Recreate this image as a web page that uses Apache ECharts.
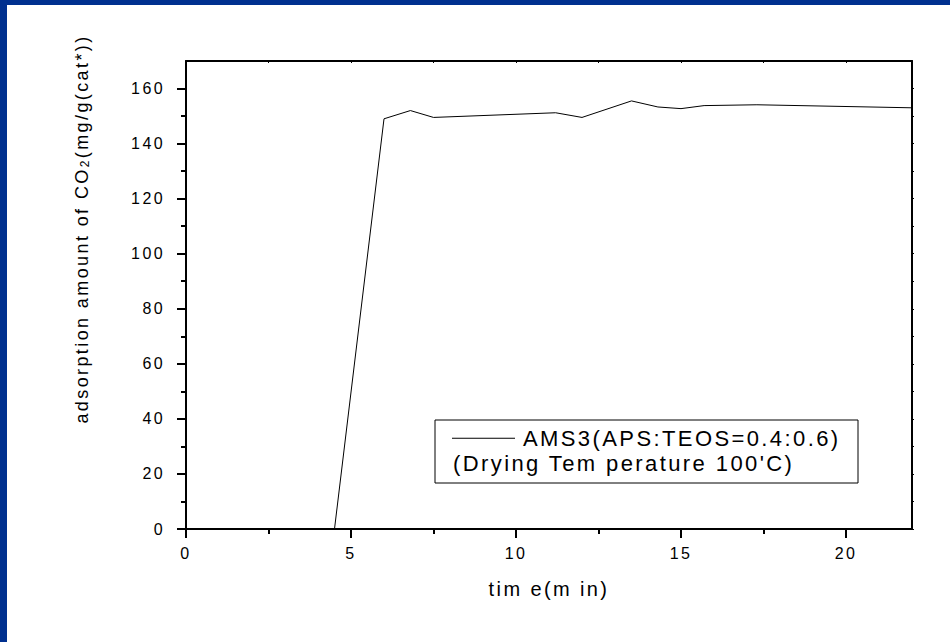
<!DOCTYPE html>
<html>
<head>
<meta charset="utf-8">
<script src="https://cdn.jsdelivr.net/npm/echarts@6/dist/echarts.min.js"></script>
<style>
html,body{margin:0;padding:0;background:#fff;overflow:hidden;}
#wrap{position:relative;width:950px;height:642px;overflow:hidden;}
#main{position:absolute;left:0;top:0;width:950px;height:642px;}
#main text{letter-spacing:2.4px;}
.band{position:absolute;z-index:10;background:#00308f;}
</style>
</head>
<body>
<div id="wrap">
<div id="main"></div>
<div class="band" style="left:0;top:0;width:7px;height:642px;"></div>
<div class="band" style="left:0;top:0;width:950px;height:5px;"></div>
</div>
<script>
// ---- data ----
const timeMin = [0, 4.5, 6.0, 6.8, 7.5, 11.2, 12.0, 13.5, 14.3, 15.0, 15.7, 17.3, 22.0];
const adsorption = [0, 0, 149, 152, 149.5, 151.2, 149.5, 155.5, 153.3, 152.7, 153.8, 154.1, 153.0];
const xMajorTicks = [0, 5, 10, 15, 20];
const xMinorTicks = [2.5, 7.5, 12.5, 17.5];
const yMajorTicks = [0, 20, 40, 60, 80, 100, 120, 140, 160];
const yMinorTicks = [10, 30, 50, 70, 90, 110, 130, 150];
const seriesName = 'AMS3(APS:TEOS=0.4:0.6)';
const legendLine2 = "(Drying Tem perature 100'C)";
const xTitle = 'tim e(m in)';

const LS = 2.4;
const FONT = "'Liberation Sans', Arial, sans-serif";
const mctx = document.createElement('canvas').getContext('2d');
echarts.setPlatformAPI({
  measureText(text, font) {
    mctx.font = font || '12px sans-serif';
    const m = mctx.measureText(text);
    return { width: m.width + LS * String(text).length };
  }
});

const chart = echarts.init(document.getElementById('main'), null, { renderer: 'svg', width: 950, height: 642 });
const gridRect = { left: 186, top: 61, width: 726, height: 468, outerBoundsMode: 'none' };
const black = '#000';

const option = {
  animation: false,
  backgroundColor: '#fff',
  grid: [Object.assign({}, gridRect), Object.assign({}, gridRect)],
  xAxis: [
    { type: 'value', gridIndex: 0, position: 'bottom', min: 0, max: 22, interval: 5,
      axisLine: { show: true, onZero: false, lineStyle: { color: black, width: 2 } },
      axisTick: { show: true, inside: false, length: 9, customValues: xMajorTicks, lineStyle: { color: black, width: 2 } },
      axisLabel: { show: true, customValues: xMajorTicks, margin: 15, color: black, fontSize: 16, fontFamily: FONT },
      splitLine: { show: false },
      name: xTitle, nameLocation: 'middle', nameGap: 49,
      nameTextStyle: { color: black, fontSize: 20, fontFamily: FONT } },
    { type: 'value', gridIndex: 0, position: 'top', min: 0, max: 22, interval: 5,
      axisLine: { show: true, onZero: false, lineStyle: { color: black, width: 2 } },
      axisTick: { show: true, inside: true, length: 2, customValues: xMajorTicks.concat(xMinorTicks), lineStyle: { color: black, width: 1 } },
      axisLabel: { show: false }, splitLine: { show: false } },
    { type: 'value', gridIndex: 1, position: 'bottom', min: 0, max: 22, interval: 2.5,
      axisLine: { show: false, onZero: false },
      axisTick: { show: true, inside: false, length: 5, customValues: xMinorTicks, lineStyle: { color: black, width: 2 } },
      axisLabel: { show: false }, splitLine: { show: false } }
  ],
  yAxis: [
    { type: 'value', gridIndex: 0, position: 'left', min: 0, max: 170, interval: 20,
      axisLine: { show: true, onZero: false, lineStyle: { color: black, width: 2 } },
      axisTick: { show: true, inside: false, length: 9, customValues: yMajorTicks, lineStyle: { color: black, width: 2 } },
      axisLabel: { show: true, customValues: yMajorTicks, margin: 21, color: black, fontSize: 16, fontFamily: FONT },
      splitLine: { show: false } },
    { type: 'value', gridIndex: 0, position: 'right', min: 0, max: 170, interval: 20,
      axisLine: { show: true, onZero: false, lineStyle: { color: black, width: 2 } },
      axisTick: { show: true, inside: false, length: 2, customValues: yMajorTicks.concat(yMinorTicks), lineStyle: { color: black, width: 1 } },
      axisLabel: { show: false }, splitLine: { show: false } },
    { type: 'value', gridIndex: 1, position: 'left', min: 0, max: 170, interval: 10,
      axisLine: { show: false, onZero: false },
      axisTick: { show: true, inside: false, length: 5, customValues: yMinorTicks, lineStyle: { color: black, width: 2 } },
      axisLabel: { show: false }, splitLine: { show: false } }
  ],
  legend: {
    data: [{ name: seriesName, icon: 'rect' }], left: 452, top: 426, padding: 0,
    itemWidth: 63, itemHeight: 1, selectedMode: false,
    itemStyle: { color: black, borderWidth: 0 },
    textStyle: { color: black, fontSize: 22, fontFamily: FONT, padding: [0, 0, 0, 3] }
  },
  graphic: [
    { type: 'rect', silent: true, z: 50, shape: { x: 435, y: 420, width: 423, height: 63 },
      style: { fill: 'rgba(0,0,0,0)', stroke: black, lineWidth: 1 } },
    { type: 'text', silent: true, z: 50, x: 453, y: 463,
      style: { text: legendLine2, fill: black, font: '22px ' + FONT, align: 'left', verticalAlign: 'middle' } },
    { type: 'text', silent: true, z: 50, x: 82, y: 229, rotation: Math.PI / 2,
      style: {
        text: '{m|adsorption amount of CO}{s|2}{m|(mg/g(cat*))}',
        align: 'center', verticalAlign: 'middle', fill: black,
        rich: {
          m: { fontSize: 18, fontFamily: FONT, fill: black, lineHeight: 20 },
          s: { fontSize: 12, fontFamily: FONT, fill: black, lineHeight: 12, verticalAlign: 'bottom', padding: [24, 0, 0, 0] }
        }
      } }
  ],
  series: [{
    name: seriesName, type: 'line', xAxisIndex: 0, yAxisIndex: 0,
    data: timeMin.map((t, i) => [t, adsorption[i]]),
    showSymbol: false, symbol: 'none',
    lineStyle: { color: black, width: 1 }, itemStyle: { color: black }
  }]
};
chart.setOption(option);
</script>
</body>
</html>
